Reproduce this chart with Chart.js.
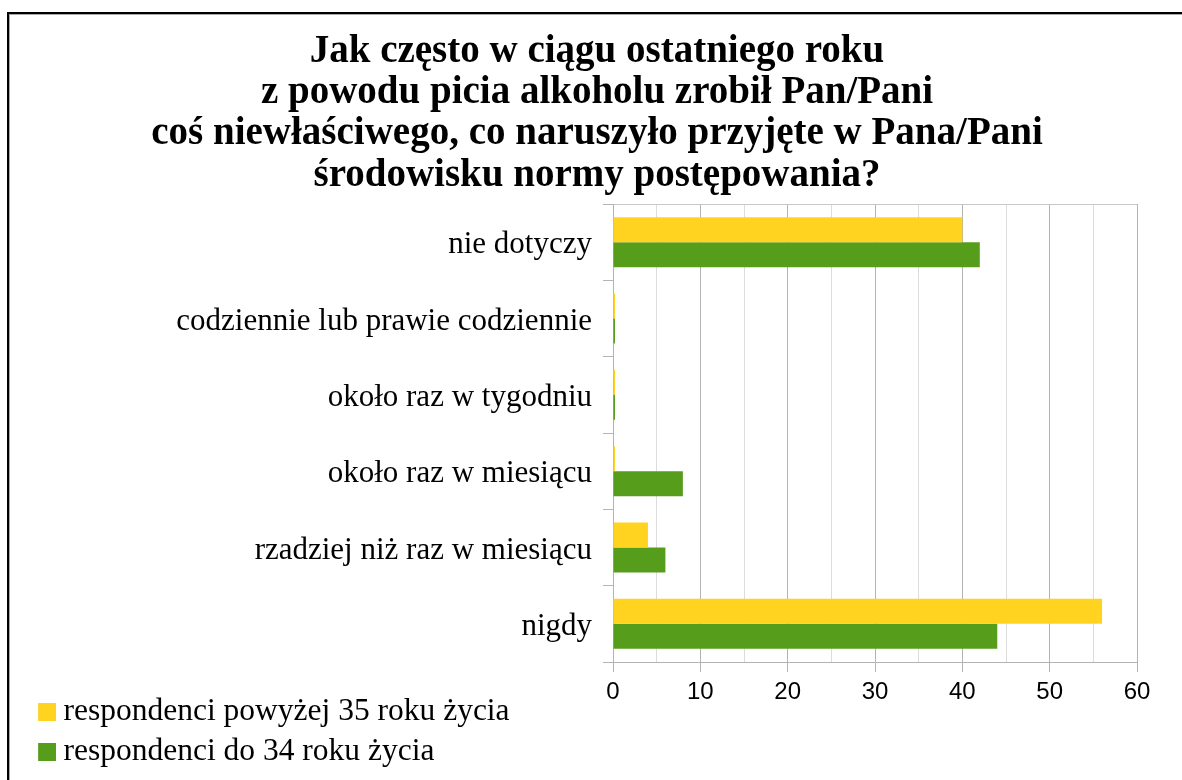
<!DOCTYPE html>
<html><head><meta charset="utf-8">
<script src="https://cdn.jsdelivr.net/npm/chart.js@4.4.1/dist/chart.umd.min.js"></script>
<style>
html,body{margin:0;padding:0;background:#fff;overflow:hidden;}
#wrap{position:absolute;left:0;top:0;width:1182px;height:780px;}
#frame{position:absolute;left:7px;top:12px;width:1400px;height:1000px;border-left:2px solid #000;border-top:2px solid #000;box-shadow:inset 1px 1px 0 #a8a8a8;pointer-events:none;}
</style></head><body>
<div id="wrap"><canvas id="c"></canvas></div>
<div id="frame"></div>
<script>
const titleLines = [
  'Jak często w ciągu ostatniego roku',
  'z powodu picia alkoholu zrobił Pan/Pani',
  'coś niewłaściwego, co naruszyło przyjęte w Pana/Pani',
  'środowisku normy postępowania?'
];
const categories = [
  'nie dotyczy',
  'codziennie lub prawie codziennie',
  'około raz w tygodniu',
  'około raz w miesiącu',
  'rzadziej niż raz w miesiącu',
  'nigdy'
];
const seriesNames = ['respondenci powyżej 35 roku życia', 'respondenci do 34 roku życia'];
const over35 = [40, 0, 0, 0, 4, 56];
const under34 = [42, 0, 0, 8, 6, 44];
const xTickLabels = [0, 10, 20, 30, 40, 50, 60];

const isMajor = c => c.tick && xTickLabels.includes(c.tick.value);

// legend swatch: an 18px square drawn at the right part of a wider transparent image
function swatch(color) {
  const cv = document.createElement('canvas');
  cv.width = 35; cv.height = 18;
  const g = cv.getContext('2d');
  g.fillStyle = color;
  g.fillRect(17, 0, 18, 18);
  return cv;
}

new Chart(document.getElementById('c'), {
  type: 'bar',
  data: {
    labels: categories,
    datasets: [
      { label: seriesNames[0], data: over35, backgroundColor: '#FFD320', borderWidth: 0,
        barPercentage: 1, categoryPercentage: 0.655, minBarLength: 2 },
      { label: seriesNames[1], data: under34, backgroundColor: '#579D1C', borderWidth: 0,
        barPercentage: 1, categoryPercentage: 0.655, minBarLength: 2 }
    ]
  },
  options: {
    indexAxis: 'y',
    responsive: true,
    maintainAspectRatio: false,
    animation: false,
    layout: { padding: { left: 21, right: 9, top: 0, bottom: 2.25 } },
    plugins: {
      title: {
        display: true, text: titleLines, color: '#000',
        font: { family: 'Liberation Serif', size: 39, weight: 'bold', lineHeight: 1.06 },
        padding: { top: 30.8, bottom: 7.9 }
      },
      legend: {
        display: true, position: 'bottom', align: 'start',
        labels: {
          color: '#000', font: { family: 'Liberation Serif', size: 31.5 },
          usePointStyle: true, pointStyleWidth: 18.25, boxHeight: 18, padding: 8.5,
          generateLabels(chart) {
            const items = Chart.defaults.plugins.legend.labels.generateLabels(chart);
            items.forEach(it => { it.pointStyle = swatch(it.fillStyle); });
            // trailing blanks make the first entry wide enough that the second wraps to a new row
            if (items.length) items[0].text = items[0].text + ' '.repeat(45);
            return items;
          }
        }
      },
      tooltip: { enabled: false }
    },
    scales: {
      x: {
        type: 'linear', min: 0, max: 60, position: 'bottom',
        afterFit(a) { a.height = 25.75; },
        ticks: { stepSize: 5, autoSkip: false, maxRotation: 0, mirror: true, padding: -45, color: '#000',
          font: { family: 'Liberation Sans', size: 24 },
          callback: v => xTickLabels.includes(v) ? String(v) : '' },
        grid: { color: c => isMajor(c) ? '#b3b3b3' : '#dcdcdc',
          tickColor: c => isMajor(c) ? '#b3b3b3' : 'transparent', tickLength: 10 },
        border: { color: '#b3b3b3' }
      },
      y: {
        type: 'category',
        afterFit(a) { a.width = 613 - 21; },
        ticks: { color: '#000', font: { family: 'Liberation Serif', size: 31 }, padding: 11, labelOffset: 3 },
        grid: { offset: true, color: c => c.index === 0 ? '#c8c8c8' : 'transparent',
          tickColor: '#b3b3b3', tickLength: 10 },
        border: { color: '#b3b3b3' }
      },
      yR: {
        type: 'linear', position: 'right', display: true,
        ticks: { display: false }, grid: { display: false }, border: { display: false },
        afterFit(a) { a.width = 36; }
      }
    }
  }
});
</script>
</body></html>
